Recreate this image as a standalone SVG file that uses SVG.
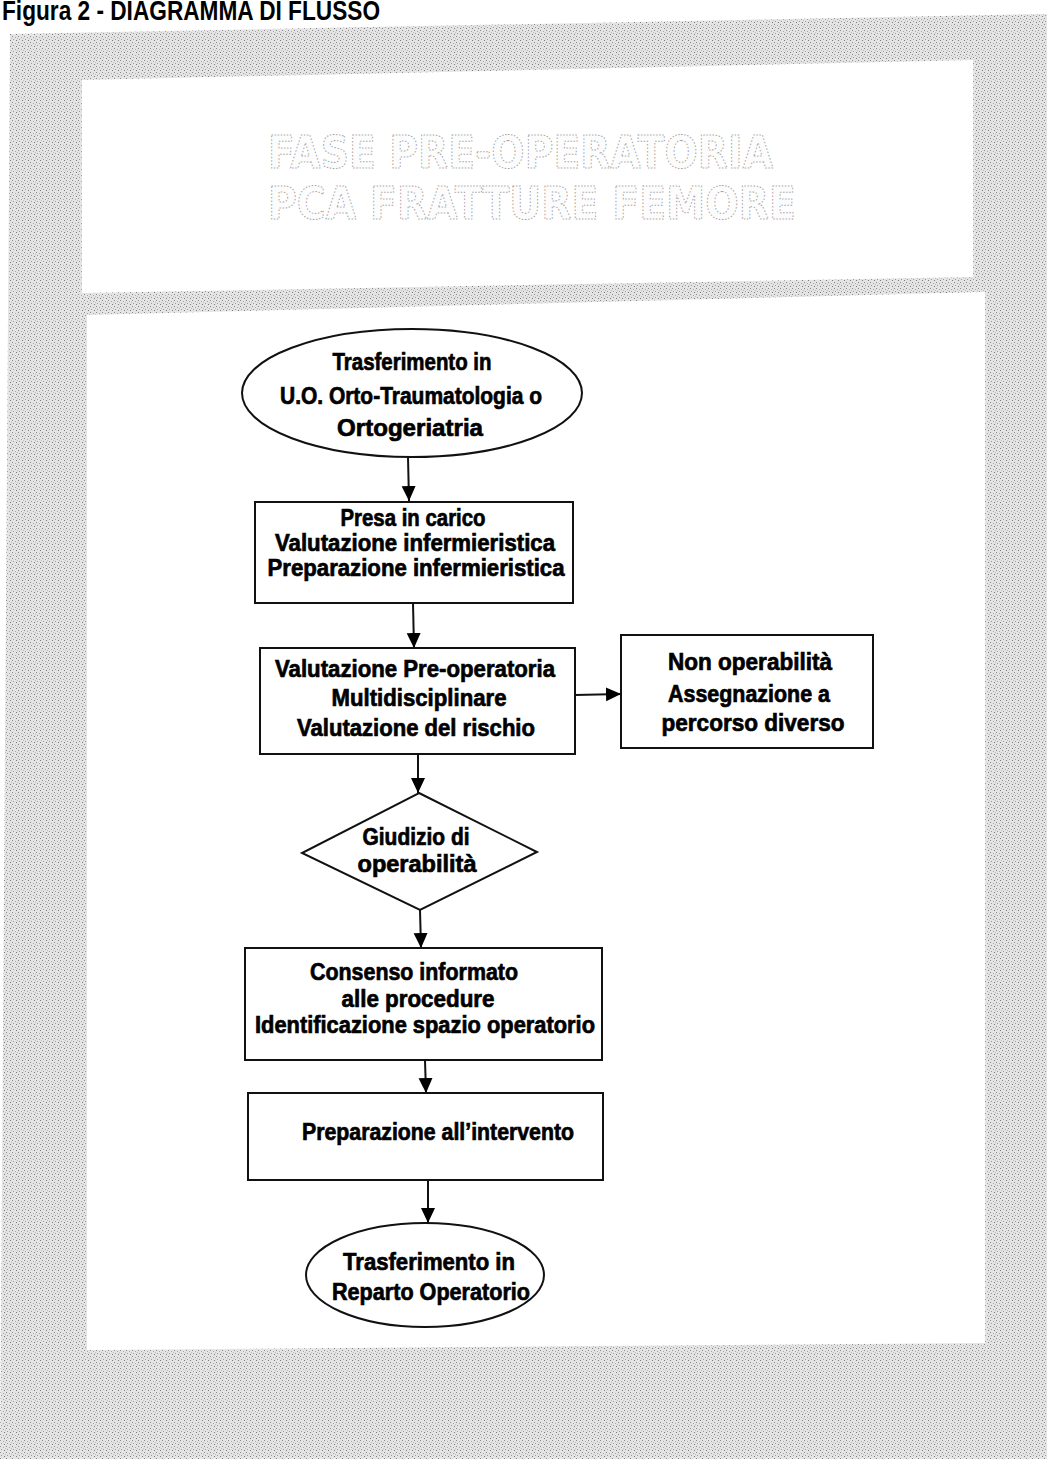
<svg xmlns="http://www.w3.org/2000/svg" width="1047" height="1459" viewBox="0 0 1047 1459">
  <defs>
    <pattern id="stip" width="6" height="6" patternUnits="userSpaceOnUse">
      <rect width="6" height="6" fill="#e4e4e4"/>
      <rect x="0" y="0" width="1" height="1" fill="#8a8a8a"/>
      <rect x="3" y="1" width="1" height="1" fill="#a5a5a5"/>
      <rect x="1" y="3" width="1" height="1" fill="#9a9a9a"/>
      <rect x="4" y="4" width="1" height="1" fill="#7a7a7a"/>
      <rect x="5" y="2" width="1" height="1" fill="#bdbdbd"/>
    </pattern>
    <marker id="arr" markerWidth="16" markerHeight="16" refX="15" refY="7" orient="auto" markerUnits="userSpaceOnUse">
      <path d="M0,0 L15,7 L0,14 Z" fill="#000"/>
    </marker>
    <style>
      .shape { fill: #fff; stroke: #111; stroke-width: 2; }
      .lbl { font-family: "Liberation Sans", Arial, sans-serif; font-weight: bold; font-size: 24px; fill: #000; stroke: #000; stroke-width: 0.7; text-anchor: middle; }
      .conn { stroke: #111; stroke-width: 2; fill: none; marker-end: url(#arr); }
      .head { font-family: "DejaVu Sans", sans-serif; font-weight: bold; font-size: 45px; fill: #fcfcfc; stroke: #9a9a9a; stroke-width: 1; stroke-dasharray: 1.5 2; }
      .title { font-family: "Liberation Sans", Arial, sans-serif; font-weight: bold; font-size: 27px; fill: #000; }
    </style>
  </defs>

  <rect width="1047" height="1459" fill="#fff"/>

  <!-- scanned page background -->
  <g id="page">
    <polygon points="10,34 1047,14 1047,1459 0,1459" fill="url(#stip)"/>
    <polygon points="82,80 973,60 973,277 82,293" fill="#fff"/>
    <polygon points="87,315 985,292 985,1343 87,1350" fill="#fff"/>
  </g>

  <g id="title">
    <text class="title" x="2" y="20" textLength="378" lengthAdjust="spacingAndGlyphs">Figura 2 - DIAGRAMMA DI FLUSSO</text>
  </g>

  <g id="header">
    <text class="head" x="268" y="168" textLength="505" lengthAdjust="spacingAndGlyphs">FASE PRE-OPERATORIA</text>
    <text class="head" x="268" y="219" textLength="528" lengthAdjust="spacingAndGlyphs">PCA FRATTURE FEMORE</text>
  </g>

  <g id="connectors">
    <line class="conn" x1="408" y1="457" x2="409" y2="501"/>
    <line class="conn" x1="413" y1="603" x2="414" y2="648"/>
    <line class="conn" x1="418" y1="754" x2="418" y2="793"/>
    <line class="conn" x1="575" y1="695" x2="621" y2="694"/>
    <line class="conn" x1="420" y1="910" x2="421" y2="948"/>
    <line class="conn" x1="425" y1="1060" x2="426" y2="1093"/>
    <line class="conn" x1="428" y1="1180" x2="428" y2="1223"/>
  </g>

  <g id="n1">
    <ellipse class="shape" cx="412" cy="393" rx="170" ry="64"/>
    <text class="lbl" x="412" y="370" textLength="159" lengthAdjust="spacingAndGlyphs">Trasferimento in</text>
    <text class="lbl" x="411" y="404" textLength="262" lengthAdjust="spacingAndGlyphs">U.O. Orto-Traumatologia o</text>
    <text class="lbl" x="410" y="436" textLength="146" lengthAdjust="spacingAndGlyphs">Ortogeriatria</text>
  </g>

  <g id="n2">
    <rect class="shape" x="255" y="502" width="318" height="101"/>
    <text class="lbl" x="413" y="526" textLength="145" lengthAdjust="spacingAndGlyphs">Presa in carico</text>
    <text class="lbl" x="415" y="551" textLength="280" lengthAdjust="spacingAndGlyphs">Valutazione infermieristica</text>
    <text class="lbl" x="416" y="576" textLength="297" lengthAdjust="spacingAndGlyphs">Preparazione infermieristica</text>
  </g>

  <g id="n3">
    <rect class="shape" x="260" y="648" width="315" height="106"/>
    <text class="lbl" x="415" y="677" textLength="280" lengthAdjust="spacingAndGlyphs">Valutazione Pre-operatoria</text>
    <text class="lbl" x="419" y="706" textLength="175" lengthAdjust="spacingAndGlyphs">Multidisciplinare</text>
    <text class="lbl" x="416" y="736" textLength="238" lengthAdjust="spacingAndGlyphs">Valutazione del rischio</text>
  </g>

  <g id="n4">
    <rect class="shape" x="621" y="635" width="252" height="113"/>
    <text class="lbl" x="750" y="670" textLength="164" lengthAdjust="spacingAndGlyphs">Non operabilità</text>
    <text class="lbl" x="749" y="702" textLength="162" lengthAdjust="spacingAndGlyphs">Assegnazione a</text>
    <text class="lbl" x="753" y="731" textLength="183" lengthAdjust="spacingAndGlyphs">percorso diverso</text>
  </g>

  <g id="n5">
    <polygon class="shape" points="419,793 537,852 420,910 302,853"/>
    <text class="lbl" x="416" y="845" textLength="107" lengthAdjust="spacingAndGlyphs">Giudizio di</text>
    <text class="lbl" x="417" y="872" textLength="119" lengthAdjust="spacingAndGlyphs">operabilità</text>
  </g>

  <g id="n6">
    <rect class="shape" x="245" y="948" width="357" height="112"/>
    <text class="lbl" x="414" y="980" textLength="208" lengthAdjust="spacingAndGlyphs">Consenso informato</text>
    <text class="lbl" x="418" y="1007" textLength="153" lengthAdjust="spacingAndGlyphs">alle procedure</text>
    <text class="lbl" x="425" y="1033" textLength="340" lengthAdjust="spacingAndGlyphs">Identificazione spazio operatorio</text>
  </g>

  <g id="n7">
    <rect class="shape" x="248" y="1093" width="355" height="87"/>
    <text class="lbl" x="438" y="1140" textLength="272" lengthAdjust="spacingAndGlyphs">Preparazione all’intervento</text>
  </g>

  <g id="n8">
    <ellipse class="shape" cx="425" cy="1275" rx="119" ry="52"/>
    <text class="lbl" x="429" y="1270" textLength="172" lengthAdjust="spacingAndGlyphs">Trasferimento in</text>
    <text class="lbl" x="431" y="1300" textLength="198" lengthAdjust="spacingAndGlyphs">Reparto Operatorio</text>
  </g>
</svg>
